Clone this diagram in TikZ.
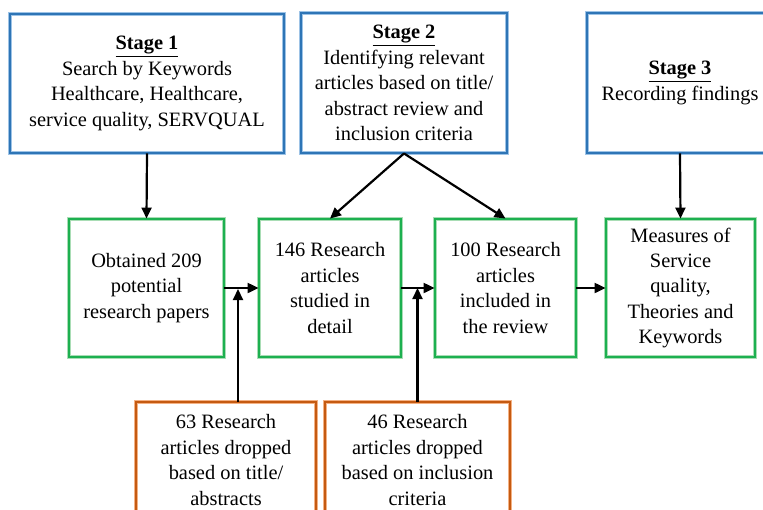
\documentclass[tikz,border=0pt]{standalone}
\usepackage{fontspec}
\setmainfont{Liberation Serif}
\usetikzlibrary{arrows.meta}
\definecolor{bluecore}{HTML}{2E75B6}
\definecolor{bluelight}{HTML}{9DC3E6}
\definecolor{greencore}{HTML}{1DB050}
\definecolor{greenlight}{HTML}{A9DDB5}
\definecolor{orangecore}{HTML}{C55A11}
\definecolor{orangelight}{HTML}{F4B183}
\tikzset{
  box/.style={align=center, inner sep=0pt, line width=0.9pt,
    font=\fontsize{20.4}{25.4}\selectfont, double distance=2.6pt},
  bluebox/.style={box, draw=bluelight, double=bluecore},
  greenbox/.style={box, draw=greenlight, double=greencore},
  orangebox/.style={box, draw=orangelight, double=orangecore},
  arr/.style={-{Triangle[length=11pt,width=10pt]}, line width=2.2pt, black},
}
\begin{document}
\begin{tikzpicture}[x=1pt,y=-1pt]
\useasboundingbox (0,0) rectangle (763,509);
\clip (0,0) rectangle (763,509);
\fill[white] (0,0) rectangle (763,509);
% Stage boxes
\node[bluebox, minimum width=274pt, minimum height=139pt] (s1) at (147,83.5)
  {\underline{\textbf{Stage 1}}\\Search by Keywords\\Healthcare, Healthcare,\\service quality, SERVQUAL};
\node[bluebox, minimum width=206pt, minimum height=140pt] (s2) at (404,83)
  {\underline{\textbf{Stage 2}}\\Identifying relevant\\articles based on title/\\abstract review and\\inclusion criteria};
\node[bluebox, minimum width=186pt, minimum height=140pt] (s3) at (680,83)
  {\underline{\textbf{Stage 3}}\\Recording findings};
% Green boxes
\node[greenbox, minimum width=155pt, minimum height=138pt] (g1) at (146.5,288)
  {Obtained 209\\potential\\research papers};
\node[greenbox, minimum width=142pt, minimum height=138pt] (g2) at (330,288)
  {146 Research\\articles\\studied in\\detail};
\node[greenbox, minimum width=141pt, minimum height=138pt] (g3) at (505.5,288)
  {100 Research\\articles\\included in\\the review};
\node[greenbox, minimum width=149pt, minimum height=138pt] (g4) at (680.5,288)
  {Measures of\\Service\\quality,\\Theories and\\Keywords};
% Orange boxes
\node[orangebox, minimum width=180pt, minimum height=116pt] (o1) at (226,460)
  {63 Research\\articles dropped\\based on title/\\abstracts};
\node[orangebox, minimum width=185pt, minimum height=116pt] (o2) at (417.5,460)
  {46 Research\\articles dropped\\based on inclusion\\criteria};
% Arrows
\draw[arr] (s1.south) -- (g1.north);
\draw[arr] (s2.south) -- (g2.north);
\draw[arr] (s2.south) -- (g3.north);
\draw[arr] (s3.south) -- (g4.north);
\draw[arr] (g1.east) -- (g2.west);
\draw[arr] (g2.east) -- (g3.west);
\draw[arr] (g3.east) -- (g4.west);
\coordinate (j1) at (238,289);
\draw[arr] (o1.north -| j1) -- (j1);
\draw[arr] (o2.north) -- (o2.north |- g2.east);
\end{tikzpicture}
\end{document}
